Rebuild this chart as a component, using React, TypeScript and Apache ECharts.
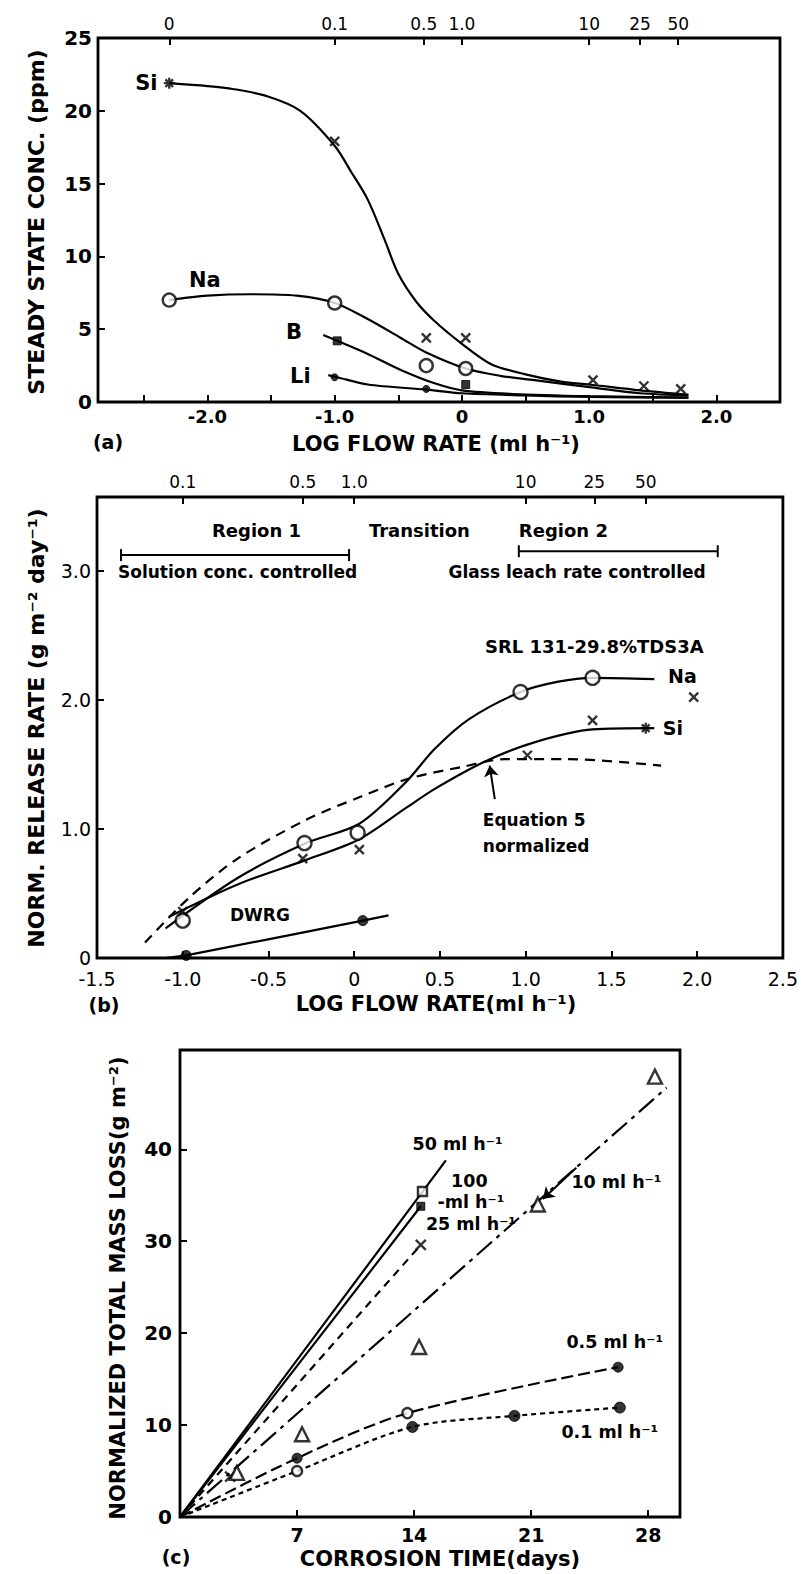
import { useEffect, useRef } from "react";
import * as echarts from "echarts";

const FONT = "DejaVu Sans";

// ---------- Panel (a) ----------
const A_X_TICKS = [-2.5, -2, -1.5, -1, -0.5, 0, 0.5, 1, 1.5, 2];
const A_X_LABELS = [-2, -1, 0, 1, 2];
const A_Y_TICKS = [0, 5, 10, 15, 20, 25];
const A_FLOW_POS = [-2.3, -1, -0.3, 0, 1, 1.4, 1.7];
const A_FLOW_LAB = ["0", "0.1", "0.5", "1.0", "10", "25", "50"];

const A_SI_PTS = [[-1.0, 17.9], [-0.28, 4.4], [0.03, 4.4], [1.03, 1.5], [1.43, 1.1], [1.72, 0.9]];
const A_SI_STAR = [[-2.3, 21.9]];
const A_SI_CURVE = [[-2.3, 21.9], [-2.0, 21.7], [-1.8, 21.5], [-1.53, 21.0], [-1.27, 20.0], [-1.0, 17.6], [-0.87, 15.8], [-0.74, 13.9], [-0.61, 11.2], [-0.5, 8.8], [-0.36, 6.9], [-0.22, 5.6], [0, 4.0], [0.23, 2.6], [0.5, 1.9], [0.78, 1.4], [1.0, 1.2], [1.4, 0.8], [1.78, 0.5]];
const A_NA_PTS = [[-2.3, 7.0], [-1.0, 6.8], [-0.28, 2.5], [0.03, 2.3]];
const A_NA_CURVE = [[-2.3, 7.0], [-2.0, 7.3], [-1.66, 7.4], [-1.3, 7.3], [-1.0, 6.8], [-0.74, 5.7], [-0.48, 4.4], [-0.28, 3.4], [0.03, 2.3], [0.3, 1.8], [0.57, 1.5], [1.02, 1.0], [1.4, 0.6], [1.78, 0.45]];
const A_B_PTS = [[-0.98, 4.2], [0.03, 1.2]];
const A_B_CURVE = [[-1.09, 4.6], [-0.98, 4.2], [-0.74, 3.3], [-0.48, 2.2], [-0.22, 1.3], [0, 0.8], [0.4, 0.55], [1.0, 0.4], [1.78, 0.3]];
const A_LI_PTS = [[-1.0, 1.7], [-0.28, 0.9]];
const A_LI_CURVE = [[-1.05, 1.85], [-0.98, 1.7], [-0.74, 1.2], [-0.28, 0.85], [0, 0.6], [0.5, 0.45], [1.0, 0.35], [1.78, 0.3]];
const A_TEXT: [number, number, string, string][] = [
  [-2.48, 21.9, "Si", "center"],
  [-2.02, 8.4, "Na", "center"],
  [-1.32, 4.8, "B", "center"],
  [-1.27, 1.8, "Li", "center"],
];

// ---------- Panel (b) ----------
const B_X_TICKS = [-1.5, -1, -0.5, 0, 0.5, 1, 1.5, 2, 2.5];
const B_Y_TICKS = [0, 1, 2, 3];
const B_FLOW_POS = [-1, -0.3, 0, 1, 1.4, 1.7];
const B_FLOW_LAB = ["0.1", "0.5", "1.0", "10", "25", "50"];

const B_NA_PTS = [[-1.0, 0.29], [-0.29, 0.89], [0.02, 0.97], [0.97, 2.06], [1.39, 2.17]];
const B_NA_CURVE = [[-1.1, 0.23], [-0.68, 0.62], [-0.28, 0.89], [0.03, 1.04], [0.3, 1.36], [0.47, 1.62], [0.67, 1.85], [0.97, 2.06], [1.19, 2.14], [1.39, 2.17], [1.75, 2.16]];
const B_SI_PTS = [[-1.0, 0.36], [-0.3, 0.77], [0.03, 0.84], [1.01, 1.57], [1.39, 1.84], [1.98, 2.02]];
const B_SI_STAR = [[1.7, 1.78]];
const B_SI_CURVE = [[-1.08, 0.32], [-0.68, 0.57], [-0.28, 0.76], [0.03, 0.92], [0.3, 1.16], [0.47, 1.31], [0.76, 1.52], [1.05, 1.67], [1.39, 1.77], [1.75, 1.78]];
const B_EQ5 = [[-1.22, 0.12], [-0.96, 0.47], [-0.68, 0.77], [-0.28, 1.07], [0.04, 1.25], [0.32, 1.39], [0.63, 1.48], [0.88, 1.54], [1.25, 1.54], [1.79, 1.49]];
const B_DWRG_PTS = [[-0.98, 0.02], [0.05, 0.29]];
const B_DWRG_LINE = [[-1.1, 0.0], [-0.98, 0.02], [0.05, 0.29], [0.2, 0.33]];
const B_REGION1 = [[-1.36, 3.12], [-0.03, 3.12]];
const B_REGION2 = [[0.96, 3.15], [2.12, 3.15]];
const B_ARROW = [[0.82, 1.23], [0.79, 1.49]];
const B_TEXT: [number, number, string, string][] = [
  [-0.57, 3.31, "Region 1", "center"],
  [0.38, 3.31, "Transition", "center"],
  [0.96, 3.31, "Region 2", "left"],
  [-0.68, 2.99, "Solution conc. controlled", "center"],
  [1.3, 2.99, "Glass leach rate controlled", "center"],
  [1.4, 2.41, "SRL 131-29.8%TDS3A", "center"],
  [1.83, 2.18, "Na", "left"],
  [1.8, 1.78, "Si", "left"],
  [0.75, 1.07, "Equation 5", "left"],
  [0.75, 0.87, "normalized", "left"],
  [-0.55, 0.33, "DWRG", "center"],
];

// ---------- Panel (c) ----------
const C_X_TICKS = [7, 14, 21, 28];
const C_Y_TICKS = [0, 10, 20, 30, 40];
const C_50_LINE = [[0, 0], [15.9, 38.8]];
const C_50_PTS = [[14.5, 35.4]];
const C_100_LINE = [[0, 0], [14.4, 33.8]];
const C_100_PTS = [[14.4, 33.8]];
const C_25_LINE = [[0, 0], [14.4, 29.6]];
const C_25_PTS = [[3.0, 4.4], [14.4, 29.6]];
const C_10_LINE = [[0, 0], [29.1, 46.7]];
const C_10_PTS = [[3.4, 4.8], [7.3, 9.0], [14.3, 18.5], [21.4, 34.0], [28.4, 47.9]];
const C_05_LINE = [[0, 0], [7, 6.4], [13.6, 11.3], [26.2, 16.3]];
const C_05_OPEN = [[13.6, 11.3]];
const C_05_FILLED = [[7, 6.4], [26.2, 16.3]];
const C_01_LINE = [[0, 0], [7, 5.0], [13.9, 9.8], [20, 11.0], [26.3, 11.9]];
const C_01_OPEN = [[7, 5.0]];
const C_01_FILLED = [[13.9, 9.8], [20, 11.0], [26.3, 11.9]];
const C_ARROW = [[23.7, 38.0], [21.7, 34.6]];
const C_TEXT: [number, number, string, string][] = [
  [16.6, 40.6, "50 ml h⁻¹", "center"],
  [17.3, 36.5, "100", "center"],
  [17.4, 34.3, "-ml h⁻¹", "center"],
  [17.4, 31.9, "25 ml h⁻¹", "center"],
  [26.1, 36.4, "10 ml h⁻¹", "center"],
  [26.0, 19.0, "0.5 ml h⁻¹", "center"],
  [25.7, 9.2, "0.1 ml h⁻¹", "center"],
];

const XPATH = "path://M0,0L10,10M10,0L0,10";
const STARPATH = "path://M5,0L5,10M0,5L10,5M1.5,1.5L8.5,8.5M8.5,1.5L1.5,8.5";

const num1 = (v: number) => (Math.abs(v) < 1e-9 ? "0" : v.toFixed(1));
const lookup = (pos: number[], labs: string[]) => (v: number) => {
  const i = pos.findIndex((p) => Math.abs(p - v) < 1e-6);
  return i >= 0 ? labs[i] : "";
};

const tick = (vals: number[]) => ({
  show: true,
  inside: true,
  length: 7,
  customValues: vals,
  lineStyle: { color: "#000", width: 2 },
});
const lab = (vals: number[], fmt: (v: number) => string, size = 17, weight = "bold", margin = 8) => ({
  show: true,
  customValues: vals,
  formatter: fmt,
  color: "#000",
  fontFamily: FONT,
  fontWeight: weight,
  fontSize: size,
  margin,
});
const noLine = { show: false, onZero: false };

function App() {
  const ref = useRef<HTMLDivElement>(null);
  useEffect(() => {
    if (!ref.current) return;
    document.body.style.margin = "0";
    const chart = echarts.init(ref.current, null, { renderer: "svg" });

    const lineS = (data: number[][], x: number, y: number, opt: any = {}) => ({
      type: "line",
      xAxisIndex: x,
      yAxisIndex: y,
      data,
      showSymbol: false,
      symbol: "none",
      smooth: opt.smooth ?? 0.3,
      lineStyle: { color: "#000", width: opt.width ?? 2.2, type: opt.dash ?? "solid" },
      z: 3,
    });
    const scat = (data: number[][], x: number, y: number, symbol: string, size: number | number[], filled: boolean) => ({
      type: "scatter",
      xAxisIndex: x,
      yAxisIndex: y,
      data,
      symbol,
      symbolSize: size,
      itemStyle: filled
        ? { color: "#000", borderColor: "#000", borderWidth: 1 }
        : { color: symbol.startsWith("path") ? "none" : "#fff", borderColor: "#000", borderWidth: 2.4 },
      z: 5,
    });
    const texts = (items: [number, number, string, string][], x: number, y: number, size: number, weight = "bold") => ({
      type: "scatter",
      xAxisIndex: x,
      yAxisIndex: y,
      symbolSize: 1,
      itemStyle: { color: "rgba(0,0,0,0)" },
      z: 6,
      data: items.map(([a, b, t, al]) => ({
        value: [a, b],
        label: { formatter: t, align: al },
      })),
      label: {
        show: true,
        position: "inside",
        color: "#000",
        opacity: 1,
        textBorderWidth: 0,
        textBorderColor: "rgba(0,0,0,0)",
        fontFamily: FONT,
        fontSize: size,
        fontWeight: weight,
      },
    });
    const bracket = (data: number[][], x: number, y: number) => ({
      type: "line",
      xAxisIndex: x,
      yAxisIndex: y,
      data,
      symbol: "rect",
      symbolSize: [2, 12],
      showSymbol: true,
      itemStyle: { color: "#000" },
      lineStyle: { color: "#000", width: 2 },
      z: 4,
    });
    const arrow = (coords: number[][], x: number, y: number) => ({
      type: "lines",
      coordinateSystem: "cartesian2d",
      xAxisIndex: x,
      yAxisIndex: y,
      symbol: ["none", "arrow"],
      symbolSize: 11,
      lineStyle: { color: "#000", width: 2, curveness: 0, opacity: 1 },
      data: [{ coords }],
      z: 5,
    });

    const gridStyle = { show: true, borderColor: "#000", borderWidth: 2.8, backgroundColor: "transparent", containLabel: false };

    const title = (text: string, x: number, y: number, size: number, rotate = false) => ({
      type: "text",
      x,
      y,
      rotation: rotate ? Math.PI / 2 : 0,
      style: {
        text,
        fill: "#000",
        font: `bold ${size}px "${FONT}"`,
        textAlign: "center",
        textVerticalAlign: "middle",
      },
    });

    const option: any = {
      animation: false,
      backgroundColor: "#fff",
      grid: [
        { ...gridStyle, left: 98, top: 38, width: 682, height: 364 },
        { ...gridStyle, left: 97, top: 497, width: 687, height: 461 },
        { ...gridStyle, left: 180, top: 1050, width: 500, height: 467 },
      ],
      xAxis: [
        {
          gridIndex: 0, type: "value", min: -2.86, max: 2.5,
          axisLine: noLine, splitLine: { show: false },
          axisTick: tick(A_X_TICKS), axisLabel: lab(A_X_LABELS, num1, 18, "bold", 5),
        },
        {
          gridIndex: 0, type: "value", position: "top", min: -2.86, max: 2.5,
          axisLine: noLine, splitLine: { show: false },
          axisTick: tick(A_FLOW_POS), axisLabel: lab(A_FLOW_POS, lookup(A_FLOW_POS, A_FLOW_LAB), 17, "normal", 6),
        },
        {
          gridIndex: 1, type: "value", min: -1.5, max: 2.5,
          axisLine: noLine, splitLine: { show: false },
          axisTick: tick(B_X_TICKS), axisLabel: lab(B_X_TICKS, num1, 19, "normal", 11),
        },
        {
          gridIndex: 1, type: "value", position: "top", min: -1.5, max: 2.5,
          axisLine: noLine, splitLine: { show: false },
          axisTick: tick(B_FLOW_POS), axisLabel: lab(B_FLOW_POS, lookup(B_FLOW_POS, B_FLOW_LAB), 17, "normal", 7),
        },
        {
          gridIndex: 2, type: "value", min: 0, max: 29.9,
          axisLine: noLine, splitLine: { show: false },
          axisTick: tick(C_X_TICKS), axisLabel: lab(C_X_TICKS, (v) => String(v), 19, "bold", 8),
        },
      ],
      yAxis: [
        {
          gridIndex: 0, type: "value", min: 0, max: 25,
          axisLine: noLine, splitLine: { show: false },
          axisTick: tick(A_Y_TICKS), axisLabel: lab(A_Y_TICKS, (v) => String(v), 20, "bold", 6),
        },
        {
          gridIndex: 1, type: "value", min: 0, max: 3.57,
          axisLine: noLine, splitLine: { show: false },
          axisTick: tick(B_Y_TICKS), axisLabel: lab(B_Y_TICKS, num1, 19, "normal", 6),
        },
        {
          gridIndex: 2, type: "value", min: 0, max: 50.8,
          axisLine: noLine, splitLine: { show: false },
          axisTick: tick(C_Y_TICKS), axisLabel: lab(C_Y_TICKS, (v) => String(v), 20, "bold", 8),
        },
      ],
      graphic: [
        title("STEADY STATE CONC. (ppm)", 36, 222, 22, true),
        title("LOG FLOW RATE (ml h⁻¹)", 436, 444, 21),
        title("(a)", 108, 442, 19),
        title("NORM. RELEASE RATE (g m⁻² day⁻¹)", 36, 728, 22, true),
        title("LOG FLOW RATE(ml h⁻¹)", 436, 1004, 21),
        title("(b)", 104, 1005, 19),
        title("NORMALIZED TOTAL MASS LOSS(g m⁻²)", 118, 1288, 21, true),
        title("CORROSION TIME(days)", 440, 1559, 21),
        title("(c)", 176, 1557, 19),
      ],
      series: [
        // panel a
        lineS(A_SI_CURVE, 0, 0),
        lineS(A_NA_CURVE, 0, 0),
        lineS(A_B_CURVE, 0, 0),
        lineS(A_LI_CURVE, 0, 0),
        scat(A_SI_PTS, 0, 0, XPATH, 9, false),
        scat(A_SI_STAR, 0, 0, STARPATH, 11, false),
        scat(A_NA_PTS, 0, 0, "circle", 13, false),
        scat(A_B_PTS, 0, 0, "rect", 8, true),
        scat(A_LI_PTS, 0, 0, "circle", 7, true),
        texts(A_TEXT, 0, 0, 21),
        // panel b
        lineS(B_NA_CURVE, 2, 1),
        lineS(B_SI_CURVE, 2, 1),
        lineS(B_EQ5, 2, 1, { dash: [10, 7] }),
        lineS(B_DWRG_LINE, 2, 1, { smooth: 0.2 }),
        scat(B_NA_PTS, 2, 1, "circle", 14, false),
        scat(B_SI_PTS, 2, 1, XPATH, 9, false),
        scat(B_SI_STAR, 2, 1, STARPATH, 11, false),
        scat(B_DWRG_PTS, 2, 1, "circle", 10, true),
        bracket(B_REGION1, 2, 1),
        bracket(B_REGION2, 2, 1),
        arrow(B_ARROW, 2, 1),
        texts(B_TEXT.slice(0, 3), 2, 1, 18),
        texts(B_TEXT.slice(3, 5), 2, 1, 17),
        texts(B_TEXT.slice(5, 6), 2, 1, 18),
        texts(B_TEXT.slice(6, 8), 2, 1, 19),
        texts(B_TEXT.slice(8), 2, 1, 17),
        // panel c
        lineS(C_50_LINE, 4, 2, { smooth: false }),
        lineS(C_100_LINE, 4, 2, { smooth: false }),
        lineS(C_25_LINE, 4, 2, { smooth: false, dash: [8, 6] }),
        lineS(C_10_LINE, 4, 2, { smooth: false, dash: [20, 6, 4, 6] }),
        lineS(C_05_LINE, 4, 2, { smooth: 0.3, dash: [12, 5] }),
        lineS(C_01_LINE, 4, 2, { smooth: 0.3, dash: [5, 4] }),
        scat(C_50_PTS, 4, 2, "rect", 9, false),
        scat(C_100_PTS, 4, 2, "rect", 8, true),
        scat(C_25_PTS, 4, 2, XPATH, 10, false),
        scat(C_10_PTS, 4, 2, "triangle", 14, false),
        scat(C_05_OPEN, 4, 2, "circle", 10, false),
        scat(C_05_FILLED, 4, 2, "circle", 10, true),
        scat(C_01_OPEN, 4, 2, "circle", 10, false),
        scat(C_01_FILLED, 4, 2, "circle", 11, true),
        arrow(C_ARROW, 4, 2),
        texts(C_TEXT, 4, 2, 17.5),
      ],
    };
    chart.setOption(option);
    return () => chart.dispose();
  }, []);
  return <div ref={ref} style={{ position: "absolute", left: 0, top: 0, width: 801, height: 1574 }} />;
}

export default App;
